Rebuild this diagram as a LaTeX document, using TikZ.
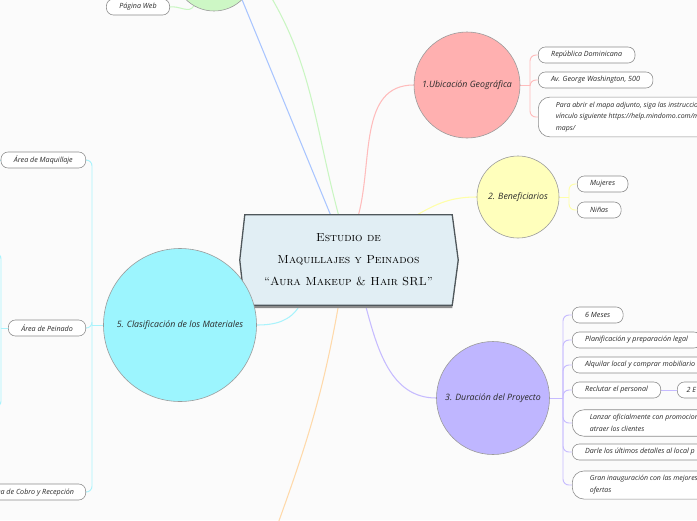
\documentclass[tikz,border=0pt]{standalone}
\usepackage{fontspec}
\newfontfamily\handfont{Open Sans}
\usetikzlibrary{calc}
\definecolor{paper}{HTML}{FBFBFB}
\definecolor{ink}{HTML}{2A2A2A}
\definecolor{titlefill}{HTML}{E1EEF4}
\definecolor{titleedge}{HTML}{4F575B}
\definecolor{topicedge}{HTML}{9A9A9A}
\definecolor{leafedge}{HTML}{8C8C8C}
\definecolor{redtopic}{HTML}{FFB0B0}
\definecolor{redline}{HTML}{FFBCBC}
\definecolor{yellowtopic}{HTML}{FFFFBC}
\definecolor{yellowline}{HTML}{FFFFA8}
\definecolor{purpletopic}{HTML}{BFB6FF}
\definecolor{purpleline}{HTML}{C6BBFF}
\definecolor{cyantopic}{HTML}{9CF5FE}
\definecolor{cyanline}{HTML}{A9F3FC}
\definecolor{greentopic}{HTML}{CDF7C5}
\definecolor{greenline}{HTML}{C9F6C2}
\definecolor{blueline}{HTML}{A9C5FF}
\definecolor{orangeline}{HTML}{FFD9AA}
\pgfdeclarelayer{paperlayer}
\pgfdeclarelayer{links}
\pgfsetlayers{paperlayer,links,main}

\begin{document}
\begin{tikzpicture}[x=0.03cm, y=-0.03cm,
    topic/.style={circle, draw=topicedge, line width=0.5pt, inner sep=0pt,
      font=\handfont\itshape\fontsize{7.5}{9}\selectfont, text=ink},
    leaf/.style={draw=leafedge, fill=white, rounded corners=6pt, line width=0.5pt,
      minimum height=0.48cm, inner xsep=11pt, inner ysep=0pt,
      font=\handfont\itshape\fontsize{6.1}{10}\selectfont, text=ink},
    leafmulti/.style={leaf, rounded corners=10pt, inner xsep=15pt, inner ysep=4pt, align=left,
      font=\handfont\itshape\fontsize{5.95}{10}\selectfont},
    branch/.style={line width=0.9pt},
    twig/.style={line width=0.8pt, rounded corners=5pt}
  ]
  \useasboundingbox (0,0) rectangle (697,520);

  % centre
  \node[inner sep=0pt, minimum width=6.21cm, minimum height=2.7cm, align=center,
    font=\scshape\fontsize{10}{18.7}\selectfont, text=black] (title) at (348.5,260)
    {Estudio de\\Maquillajes y Peinados\\“Aura Makeup \& Hair SRL”};

  % main topics
  \node[topic, fill=greentopic, minimum size=2.4cm] (temaverde) at (214,-29) {};
  \node[topic, fill=redtopic, minimum size=3.18cm] (ubicacion) at (467,85) {1.Ubicación Geográfica};
  \node[topic, fill=yellowtopic, minimum size=2.46cm] (beneficiarios) at (518,197) {2. Beneficiarios};
  \node[topic, fill=purpletopic, minimum size=3.39cm] (duracion) at (493,398) {3. Duración del Proyecto};
  \node[topic, fill=cyantopic, minimum size=4.59cm] (clasificacion) at (180,325) {5. Clasificación de los Materiales};

  % leaves
  \node[leaf, anchor=center] (paginaweb) at (138,7) {Página Web};
  \node[leaf, anchor=west] (republica) at (538,55) {República Dominicana};
  \node[leaf, anchor=west] (avenida) at (538,80) {Av. George Washington, 500};
  \node[leafmulti, anchor=west] (mapa) at (538,117) {Para abrir el mapa adjunto, siga las instrucciones del\\vínculo siguiente https://help.mindomo.com/mobile-\\maps/};
  \node[leaf, anchor=west] (mujeres) at (577,184) {Mujeres};
  \node[leaf, anchor=west] (ninas) at (577,210) {Niñas};
  \node[leaf, anchor=west] (meses) at (572,315) {6 Meses};
  \node[leaf, anchor=west] (planificacion) at (572,340) {Planificación y preparación legal};
  \node[leaf, anchor=west] (alquilar) at (572,365) {Alquilar local y comprar mobiliario\hspace{20pt}};
  \node[leaf, anchor=west] (reclutar) at (572,390) {Reclutar el personal};
  \node[leaf, anchor=west, inner xsep=8pt] (dose) at (677,390) {2 E\hspace{30pt}};
  \node[leafmulti, anchor=west] (lanzar) at (572,423) {Lanzar oficialmente con promociones para\\atraer los clientes};
  \node[leaf, anchor=west] (detalles) at (572,452) {Darle los últimos detalles al local p\hspace{30pt}};
  \node[leafmulti, anchor=west] (inauguracion) at (572,485) {Gran inauguración con las mejores\hspace{30pt}\\ofertas};
  \node[leaf, anchor=east] (maquillaje) at (86,160) {Área de Maquillaje};
  \node[leaf, anchor=east] (peinado) at (86,328) {Área de Peinado};
  \node[leaf, anchor=east, inner xsep=10pt] (cobro) at (86,492) {Área de Cobro y Recepción};

  % junctions and free ends
  \coordinate (ubicj) at (530,85);
  \coordinate (benefj) at (569,197);
  \coordinate (duracj) at (563,398);
  \coordinate (clasifj) at (92,325);
  \coordinate (azularriba) at (236,-15);
  \coordinate (naranjaabajo) at (272,540);
  \coordinate (maqfuera) at (-10,160);
  \coordinate (peinj) at (1,328);
  \coordinate (peinarriba) at (-10,253);
  \coordinate (peinabajo) at (-10,407);

  \begin{pgfonlayer}{paperlayer}
    \fill[paper] (0,0) rectangle (697,520);
  \end{pgfonlayer}

  \begin{pgfonlayer}{links}
    % branches from the centre
    \draw[branch, blueline] (azularriba) -- ($(title.north)+(-18,0)$);
    \draw[branch, greenline] (temaverde.east) to[out=-55, in=105] ($(title.north)+(-10,0)$);
    \draw[branch, redline] ($(title.north)+(10,0)$) to[out=75, in=180] (ubicacion.west);
    \draw[branch, yellowline] ($(title.north east)+(-35,0)$) to[out=30, in=180] (beneficiarios.west);
    \draw[branch, purpleline] ($(title.south)+(17,0)$) to[out=-75, in=180] (duracion.west);
    \draw[branch, orangeline] ($(title.south)+(-10,0)$) to[out=-100, in=70] (naranjaabajo);
    \draw[branch, cyanline] ($(title.south west)+(55,0)$) to[out=-120, in=0] (clasificacion.east);
    \draw[branch, greenline] (paginaweb.east) to[out=10, in=240] (temaverde);

    % red leaves
    \draw[twig, redline] (ubicacion.east) -- (ubicj);
    \foreach \n in {republica, avenida, mapa}
      \draw[twig, redline] (ubicj) |- (\n.west);
    % yellow leaves
    \draw[twig, yellowline] (beneficiarios.east) -- (benefj);
    \foreach \n in {mujeres, ninas}
      \draw[twig, yellowline] (benefj) |- (\n.west);
    % purple leaves
    \draw[twig, purpleline] (duracion.east) -- (duracj);
    \foreach \n in {meses, planificacion, alquilar, reclutar, lanzar, detalles, inauguracion}
      \draw[twig, purpleline] (duracj) |- (\n.west);
    \draw[twig, purpleline] (reclutar.east) -- (dose.west);
    % cyan leaves
    \draw[twig, cyanline] (clasificacion.west) -- (clasifj);
    \foreach \n in {maquillaje, peinado, cobro}
      \draw[twig, cyanline] (clasifj) |- (\n.east);
    \draw[twig, cyanline] (maquillaje.west) -- (maqfuera);
    \draw[twig, cyanline] (peinado.west) -- (peinj);
    \draw[twig, cyanline] (peinj) |- (peinarriba);
    \draw[twig, cyanline] (peinj) |- (peinabajo);

    % centre box
    \fill[black!45] ($(title.north west)+(0,3)$) -- ($(title.north east)+(0,3)$) -- ($(title.east)+(6,3)$)
      -- ($(title.south east)+(0,3)$) -- ($(title.south west)+(0,3)$) -- ($(title.west)+(-5,3)$) -- cycle;
    \draw[titleedge, fill=titlefill, line width=1.1pt] (title.north west) -- (title.north east) -- ($(title.east)+(6,0)$)
      -- (title.south east) -- (title.south west) -- ($(title.west)+(-5,0)$) -- cycle;
  \end{pgfonlayer}
\end{tikzpicture}
\end{document}
